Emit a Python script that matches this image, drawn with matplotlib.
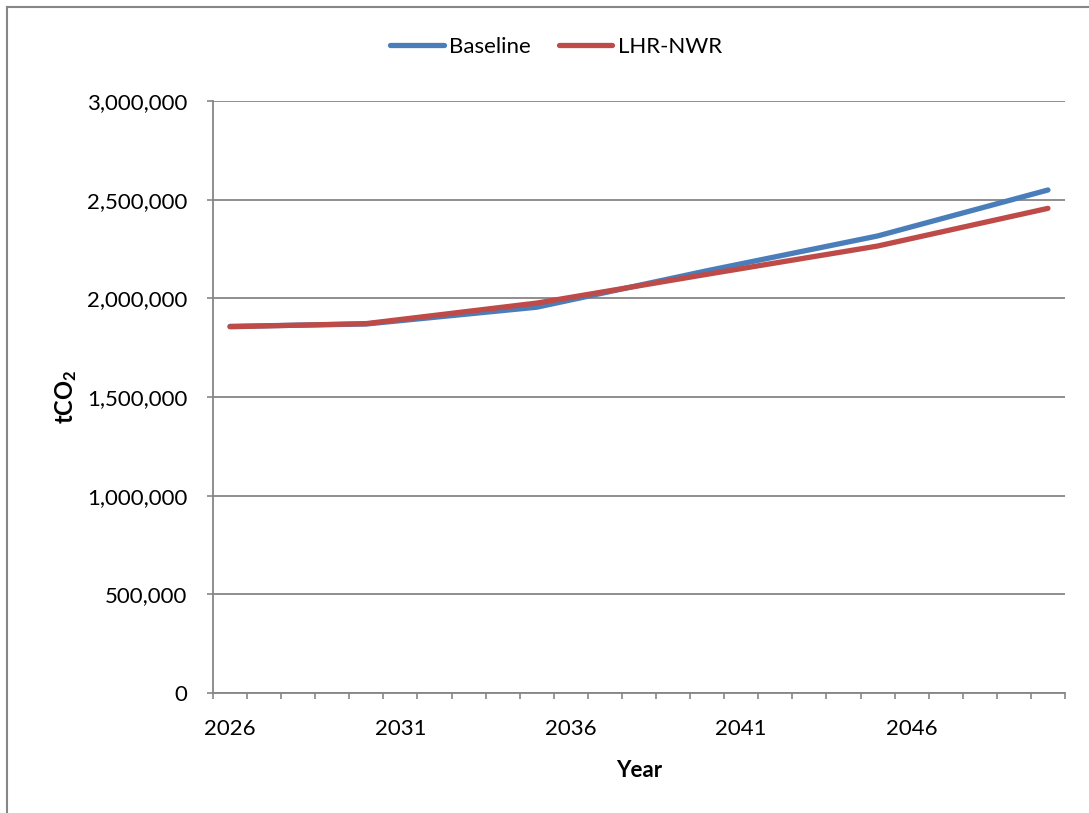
import matplotlib
matplotlib.use('Agg')
import matplotlib.pyplot as plt
from matplotlib.lines import Line2D
from matplotlib.ticker import FuncFormatter, FixedLocator

plt.rcParams['font.family'] = ['Lato', 'DejaVu Sans']
plt.rcParams['mathtext.fontset'] = 'custom'
plt.rcParams['mathtext.rm'] = 'Lato'
plt.rcParams['mathtext.bf'] = 'Lato:bold'

# data
years = list(range(2026, 2051))
point_years = [2026, 2030, 2035, 2040, 2045, 2050]
baseline = [1858000, 1870000, 1955000, 2140000, 2316000, 2549000]
lhr_nwr = [1856000, 1872000, 1976000, 2122000, 2265000, 2456000]
y_ticks = [0, 500000, 1000000, 1500000, 2000000, 2500000, 3000000]
label_years = [2026, 2031, 2036, 2041, 2046]

grey = '#868686'
blue = '#4a7ebb'
red = '#be4b48'
fs = 16

fig = plt.figure(figsize=(10.89, 8.13), dpi=100)
ax = fig.add_axes([213 / 1089, 1 - 693 / 813, (1065 - 213) / 1089, (693 - 101) / 813])

xpos = [years.index(y) for y in point_years]
ax.plot(xpos, baseline, color=blue, lw=3.8, solid_capstyle='round', solid_joinstyle='round', label='Baseline')
ax.plot(xpos, lhr_nwr, color=red, lw=3.8, solid_capstyle='round', solid_joinstyle='round', label='LHR-NWR')

ax.set_xlim(-0.5, len(years) - 0.5)
ax.set_ylim(0, 3000000)

# category axis: ticks at boundaries, labels every 5 years
ax.xaxis.set_major_locator(FixedLocator([years.index(y) for y in label_years]))
ax.set_xticklabels([str(y) for y in label_years])
ax.xaxis.set_minor_locator(FixedLocator([i - 0.5 for i in range(len(years) + 1)]))
ax.tick_params(axis='x', which='major', length=0, pad=19, labelsize=fs)
ax.tick_params(axis='x', which='minor', length=4.3, width=1.2, color=grey, direction='out')

ax.set_yticks(y_ticks)
ax.yaxis.set_major_formatter(FuncFormatter(lambda v, p: f'{int(v):,}'))
ax.tick_params(axis='y', length=4.3, width=1.2, color=grey, direction='out', pad=14, labelsize=fs)

ax.grid(axis='y', color=grey, lw=1.3)
ax.set_axisbelow(True)
for s in ['top', 'right']:
    ax.spines[s].set_visible(False)
for s in ['left', 'bottom']:
    ax.spines[s].set_color(grey)
    ax.spines[s].set_linewidth(1.3)

ax.set_xlabel('Year', fontsize=fs, fontweight='bold', labelpad=15)
ax.set_ylabel(r'$\mathbf{tCO_2}$', fontsize=fs + 1, labelpad=6)

ax.legend(loc='center', bbox_to_anchor=(556 / 1089, (813 - 47) / 813), bbox_transform=fig.transFigure,
          ncol=2, frameon=False, fontsize=fs, handlelength=2.4, columnspacing=1.25,
          handletextpad=0.25)

# chart border (only top and left visible in the crop)
fig.add_artist(Line2D([7 / 1089, 7 / 1089], [0, 1 - 7 / 813], color=grey, lw=1.5))
fig.add_artist(Line2D([7 / 1089, 1], [1 - 7 / 813, 1 - 7 / 813], color=grey, lw=1.5))

fig.savefig('out.png', dpi=100)
